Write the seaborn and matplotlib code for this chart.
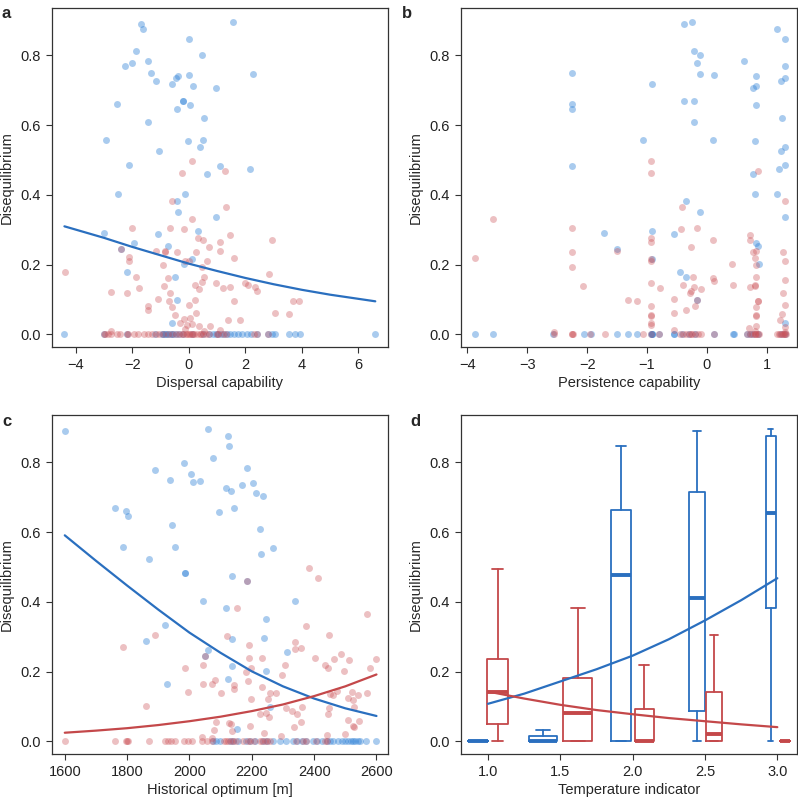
import matplotlib
matplotlib.use("Agg")
import matplotlib.pyplot as plt
import seaborn as sns

# ---- data ----
# panel a: dispersal capability
a_blue_x = [1.55, -1.70, -1.62, 0.0, -1.85, 0.47, -1.43, -2.02, -2.25, -1.33, 2.28, 0.0, -0.38, -0.46,
            -1.16, -0.58, 0.165, 0.98, -0.22, -0.21, -2.55, 0.06, -0.40, 0.53, -1.44, -2.94, 0.50, -0.02,
            0.40, -1.07, -2.10, 1.12, 2.18, 0.65, -2.50, -0.12, -0.40, -0.37, 0.96, -3.0, 0.34, -1.10,
            -1.94, -0.72, -2.41, 0.11, -0.18, -2.17, -0.50, -0.40, -0.60]
a_blue_y = [0.897, 0.890, 0.876, 0.848, 0.814, 0.800, 0.783, 0.777, 0.769, 0.750, 0.748, 0.745, 0.741, 0.734,
            0.727, 0.717, 0.712, 0.706, 0.669, 0.669, 0.662, 0.659, 0.646, 0.620, 0.609, 0.558, 0.558, 0.555,
            0.537, 0.525, 0.486, 0.483, 0.475, 0.461, 0.402, 0.402, 0.384, 0.350, 0.336, 0.292, 0.296, 0.289,
            0.263, 0.255, 0.246, 0.217, 0.203, 0.179, 0.165, 0.100, 0.034]
a_blue_zero_x = [-4.4, -3.0, -2.2, -1.2, -0.95, -0.9, -0.85, -0.8, -0.75, -0.65, -0.6, -0.55, -0.45, -0.35,
                 -0.2, 0.1, 0.5, 0.7, 0.85, 0.95, 1.05, 1.15, 1.25, 1.35, 1.45, 1.6, 1.75, 1.9, 2.05, 2.2,
                 2.4, 2.8, 2.95, 3.05, 3.55, 3.75, 3.95, 6.6]
a_red_x = [0.12, 1.27, -0.25, -0.60, 1.33, 0.10, -2.0, -0.65, -0.16, 1.45, 0.34, 2.95, 0.50, 1.10, 0.70,
           -1.17, -0.85, -0.83, -0.40, 0.27, 1.12, -2.10, -2.10, 0.0, -0.15, 0.65, 1.60, -0.90, 0.47, -4.37,
           2.83, 0.55, -1.85, -0.73, 0.98, 2.0, 0.48, 0.22, -0.88, 1.45, 2.10, 2.33, 0.35, 1.22, -1.77,
           2.40, -2.75, -2.20, -0.65, -1.10, 0.22, -0.70, 1.60, 3.70, 3.90, 0.0, -1.45, -0.60, -1.45, 0.25,
           3.05, 3.55, -0.50, -0.18, 0.05, 1.40, 1.80, -0.30, 0.10, -0.05, 0.35, 0.75, 1.10, -2.75, 0.55,
           -0.15, -2.41]
a_red_y = [0.496, 0.470, 0.463, 0.384, 0.364, 0.332, 0.305, 0.305, 0.302, 0.284, 0.277, 0.270, 0.272, 0.264,
           0.252, 0.239, 0.239, 0.236, 0.236, 0.236, 0.239, 0.222, 0.212, 0.212, 0.212, 0.212, 0.219, 0.198,
           0.193, 0.178, 0.173, 0.164, 0.165, 0.163, 0.148, 0.148, 0.149, 0.143, 0.139, 0.136, 0.141, 0.136,
           0.130, 0.134, 0.133, 0.126, 0.121, 0.120, 0.119, 0.102, 0.100, 0.095, 0.097, 0.095, 0.095, 0.085,
           0.081, 0.078, 0.070, 0.061, 0.061, 0.058, 0.056, 0.044, 0.047, 0.040, 0.040, 0.034, 0.031, 0.026,
           0.025, 0.025, 0.013, 0.009, 0.011, 0.016, 0.246]
a_red_zero_x = [-3.0, -2.95, -2.85, -2.75, -2.55, -2.45, -2.2, -2.15, -1.95, -1.8, -1.6, -1.45, -1.3, -1.15,
                -1.05, -0.9, -0.75, -0.6, -0.45, -0.35, -0.25, -0.2, -0.1, -0.05, 0.0, 0.05, 0.1, 0.15, 0.2,
                0.3, 0.4, 0.45, 0.5, 0.6, 0.7, 1.0, 1.05, 1.2, 1.3, 2.3, 2.4, 2.8]
a_curve_x = [-4.4, -3.0, -2.0, -1.0, 0.0, 1.0, 2.0, 3.0, 4.0, 5.0, 6.6]
a_curve_y = [0.310, 0.277, 0.251, 0.227, 0.203, 0.182, 0.162, 0.144, 0.128, 0.114, 0.095]

# panel b: persistence capability
b_blue_x = [-0.25, -0.38, 1.17, 1.31, -0.21, -0.12, 0.62, -0.16, 1.31, -2.26, -0.11, 0.12, 0.83, 1.31,
            1.24, -0.92, 0.82, 0.78, -0.38, -0.22, -2.26, 0.83, -2.26, 1.26, -0.22, -1.07, 0.10, 0.80,
            1.31, 1.24, -2.26, 1.31, 1.20, 0.78, 1.18, 0.80, -0.35, -0.12, 1.31, -1.71, -0.92, -0.54,
            0.82, 0.85, -1.50, -0.92, 0.87, -0.44, -0.34, -0.17, 1.31]
b_blue_y = [0.897, 0.890, 0.876, 0.848, 0.814, 0.800, 0.783, 0.777, 0.769, 0.750, 0.748, 0.745, 0.741, 0.734,
            0.727, 0.717, 0.712, 0.706, 0.669, 0.669, 0.662, 0.659, 0.646, 0.620, 0.609, 0.558, 0.558, 0.555,
            0.537, 0.525, 0.482, 0.486, 0.475, 0.461, 0.402, 0.402, 0.384, 0.350, 0.336, 0.292, 0.296, 0.289,
            0.263, 0.255, 0.246, 0.217, 0.203, 0.179, 0.165, 0.100, 0.034]
b_blue_zero_x = [-3.88, -3.57, -2.57, -2.06, -1.94, -1.50, -1.31, -1.16, -0.93, -0.92, -0.92, -0.91, -0.80,
                 -0.55, -0.54, -0.42, -0.30, -0.20, 0.12, 0.43, 0.45, 0.68, 0.72, 0.78, 0.85, 1.24, 1.30]
b_red_x = [-0.93, -0.93, 0.86, 1.30, -0.42, -3.58, -2.25, -0.43, -0.17, 0.72, -0.93, 0.10, 0.73, -0.93,
           -0.26, -2.25, -1.50, 0.78, 0.82, 1.28, -3.88, -0.93, 0.80, 1.30, 0.42, -2.25, 0.82, 0.10, -0.23,
           0.82, 1.30, 0.12, -0.93, -0.39, 0.43, -2.07, 0.72, 0.80, 0.81, -0.78, -0.22, -0.10, -0.27, -0.28,
           1.27, -1.32, -0.55, -1.16, 0.85, 0.86, -0.17, 1.30, -0.93, 0.82, -0.20, -0.35, -0.55, 1.25, -0.93,
           -0.93, 0.82, 0.83, 1.23, -0.93, -0.93, 0.70, 0.82, 1.30, -0.55, -2.56, 0.80, 1.30, -0.93]
b_red_y = [0.496, 0.463, 0.470, 0.384, 0.364, 0.332, 0.305, 0.302, 0.305, 0.284, 0.277, 0.272, 0.270, 0.264,
           0.252, 0.235, 0.239, 0.236, 0.239, 0.236, 0.220, 0.212, 0.219, 0.212, 0.203, 0.192, 0.198, 0.163,
           0.165, 0.165, 0.155, 0.152, 0.147, 0.143, 0.143, 0.138, 0.136, 0.139, 0.141, 0.133, 0.136, 0.131,
           0.124, 0.119, 0.119, 0.100, 0.102, 0.095, 0.095, 0.095, 0.100, 0.085, 0.081, 0.078, 0.081, 0.069,
           0.061, 0.059, 0.054, 0.056, 0.056, 0.054, 0.040, 0.034, 0.026, 0.019, 0.023, 0.021, 0.013, 0.008,
           0.009, 0.007, 0.217]
b_red_zero_x = [-2.56, -2.26, -2.25, -2.24, -1.95, -1.70, -1.07, -0.93, -0.80, -0.44, -0.40, -0.35, -0.30,
                -0.27, -0.25, -0.20, -0.15, -0.10, 0.12, 0.68, 0.72, 0.76, 0.80, 0.80, 0.82, 0.85, 0.88,
                1.17, 1.20, 1.23, 1.25, 1.27, 1.29, 1.30, 1.32]

# panel c: historical optimum
c_blue_x = [1600, 2061, 2125, 2128, 2074, 1983, 2185, 1891, 2004, 1937, 2035, 2012, 2203, 2170, 2118, 2132,
            2213, 2236, 1762, 2143, 1798, 2095, 1803, 1945, 2226, 1788, 1955, 2267, 2231, 1870, 1986, 1987,
            2138, 2185, 2045, 2340, 2118, 2247, 1923, 2138, 1860, 2240, 2060, 2312, 2049, 2138, 2246, 2125,
            1929, 2259, 2154]
c_blue_y = [0.890, 0.896, 0.876, 0.848, 0.813, 0.799, 0.783, 0.777, 0.768, 0.750, 0.748, 0.745, 0.740, 0.734,
            0.727, 0.717, 0.712, 0.705, 0.668, 0.668, 0.662, 0.658, 0.646, 0.620, 0.608, 0.558, 0.558, 0.555,
            0.537, 0.524, 0.484, 0.484, 0.474, 0.461, 0.402, 0.402, 0.384, 0.350, 0.335, 0.293, 0.289, 0.296,
            0.263, 0.256, 0.245, 0.217, 0.202, 0.179, 0.165, 0.100, 0.035]
c_blue_zero_x = [2076, 2085, 2097, 2130, 2140, 2155, 2180, 2195, 2210, 2236, 2250, 2268, 2290, 2310, 2333,
                 2345, 2360, 2375, 2397, 2410, 2425, 2440, 2450, 2461, 2477, 2490, 2500, 2510, 2518, 2525,
                 2532, 2540, 2547, 2568, 2600]
c_red_x = [2382, 2411, 2154, 2570, 2373, 1891, 2121, 2449, 2339, 1788, 2357, 2192, 2340, 2486, 2402, 2192,
           2234, 2464, 2511, 2598, 2434, 2043, 1986, 2196, 2307, 2443, 2580, 2495, 2181, 2296, 2083, 2187,
           2045, 2073, 2144, 2232, 2144, 2472, 2522, 1996, 2100, 2258, 2279, 2570, 2452, 2541, 2461, 2509,
           2198, 2252, 2525, 2311, 2360, 2448, 2528, 2330, 2345, 2227, 2247, 2443, 2256, 2359, 2084, 2509,
           2543, 2127, 2133, 2525, 2528, 2336, 2195, 2078, 2138, 2499, 2240, 2295, 2440, 2040, 2073, 1860,
           2049, 2185]
c_red_y = [0.496, 0.470, 0.384, 0.364, 0.332, 0.305, 0.301, 0.305, 0.284, 0.272, 0.269, 0.277, 0.264, 0.252,
           0.238, 0.238, 0.238, 0.235, 0.234, 0.236, 0.218, 0.219, 0.212, 0.212, 0.218, 0.212, 0.212, 0.202,
           0.198, 0.191, 0.177, 0.173, 0.165, 0.165, 0.161, 0.157, 0.150, 0.146, 0.143, 0.143, 0.138, 0.138,
           0.140, 0.140, 0.136, 0.133, 0.132, 0.126, 0.121, 0.121, 0.119, 0.096, 0.100, 0.096, 0.098, 0.086,
           0.080, 0.079, 0.081, 0.078, 0.069, 0.057, 0.057, 0.061, 0.059, 0.054, 0.050, 0.045, 0.040, 0.040,
           0.045, 0.032, 0.031, 0.022, 0.024, 0.017, 0.019, 0.014, 0.010, 0.102, 0.245, 0.461]
c_red_zero_x = [1600, 1762, 1796, 1800, 1803, 1870, 1921, 1930, 1940, 1953, 1983, 1995, 2008, 2040, 2055,
                2072, 2110, 2118, 2125, 2132, 2140, 2148, 2172, 2188, 2194, 2207, 2226, 2234, 2242, 2250,
                2258, 2343, 2363, 2375, 2405, 2434, 2440]
c_curve_x = [1600, 1700, 1800, 1900, 2000, 2100, 2200, 2300, 2400, 2500, 2600]
c_blue_curve = [0.591, 0.518, 0.447, 0.378, 0.312, 0.254, 0.201, 0.158, 0.123, 0.095, 0.073]
c_red_curve = [0.025, 0.031, 0.038, 0.047, 0.058, 0.071, 0.087, 0.106, 0.130, 0.158, 0.192]

# panel d: temperature indicator (box summaries)
temp_levels = [1.0, 1.5, 2.0, 2.5, 3.0]
d_blue_whislo = [0.0, 0.0, 0.0, 0.0, 0.0]
d_blue_q1 = [0.0, 0.0, 0.0, 0.088, 0.384]
d_blue_med = [0.0, 0.0, 0.478, 0.410, 0.654]
d_blue_q3 = [0.0, 0.016, 0.663, 0.714, 0.876]
d_blue_whishi = [0.0, 0.033, 0.848, 0.889, 0.897]
d_red_whislo = [0.0, 0.0, 0.0, 0.0, 0.0]
d_red_q1 = [0.050, 0.0, 0.0, 0.0, 0.0]
d_red_med = [0.141, 0.081, 0.0, 0.021, 0.0]
d_red_q3 = [0.237, 0.182, 0.094, 0.143, 0.0]
d_red_whishi = [0.495, 0.383, 0.220, 0.306, 0.0]
d_curve_x = [1.0, 1.25, 1.5, 1.75, 2.0, 2.25, 2.5, 2.75, 3.0]
d_blue_curve = [0.108, 0.137, 0.172, 0.207, 0.246, 0.293, 0.347, 0.405, 0.468]
d_red_curve = [0.143, 0.123, 0.105, 0.090, 0.078, 0.067, 0.058, 0.049, 0.041]

# layout of the boxes (offset from level, box width)
blue_off = [-0.069, -0.120, -0.079, -0.058, -0.046]
red_off = [0.066, 0.120, 0.080, 0.063, 0.053]
blue_w = [0.138, 0.198, 0.138, 0.111, 0.069]
red_w = [0.145, 0.198, 0.133, 0.108, 0.065]

BLUE = "#2a7fd6"
RED = "#cc5258"
BLUE_LINE = "#2a6fbf"
RED_LINE = "#c4484a"

sns.set_style("ticks")
plt.rcParams['font.family'] = ['Liberation Sans', 'DejaVu Sans']
plt.rcParams['axes.edgecolor'] = '#333333'
plt.rcParams['xtick.color'] = '#333333'
plt.rcParams['ytick.color'] = '#333333'
plt.rcParams['xtick.labelcolor'] = '#222222'
plt.rcParams['ytick.labelcolor'] = '#222222'

fig = plt.figure(figsize=(7.98, 7.98), dpi=100)
W = 798.0
boxes = {
    'a': (52, 8, 388, 347),
    'b': (461, 8, 797, 347),
    'c': (52, 415, 388, 754),
    'd': (461, 415, 797, 754),
}
axes = {}
for k, (x0, y0, x1, y1) in boxes.items():
    ax = fig.add_axes([x0 / W, 1 - y1 / W, (x1 - x0) / W, (y1 - y0) / W])
    axes[k] = ax


def style(ax, xlabel):
    for sp in ax.spines.values():
        sp.set_visible(True)
        sp.set_linewidth(0.9)
    ax.tick_params(direction='out', length=4, width=0.8, labelsize=10.5, pad=4)
    ax.set_yticks([0.0, 0.2, 0.4, 0.6, 0.8])
    ax.set_yticklabels(['0.0', '0.2', '0.4', '0.6', '0.8'])
    ax.set_ylim(-0.036, 0.936)
    ax.set_xlabel(xlabel, fontsize=10.5, labelpad=3)
    ax.set_ylabel('Disequilibrium', fontsize=10.5, labelpad=5)


def scatter(ax, bx, by, rx, ry):
    sns.scatterplot(x=bx, y=by, ax=ax, color=BLUE, alpha=0.4, s=25, linewidth=0, legend=False)
    sns.scatterplot(x=rx, y=ry, ax=ax, color=RED, alpha=0.36, s=25, linewidth=0, legend=False)


# a
ax = axes['a']
scatter(ax, a_blue_x + a_blue_zero_x, a_blue_y + [0.0] * len(a_blue_zero_x),
        a_red_x + a_red_zero_x, a_red_y + [0.0] * len(a_red_zero_x))
sns.lineplot(x=a_curve_x, y=a_curve_y, ax=ax, color=BLUE_LINE, linewidth=1.6)
ax.set_xlim(-4.84, 7.05)
ax.set_xticks([-4, -2, 0, 2, 4, 6])
ax.set_xticklabels(['\u22124', '\u22122', '0', '2', '4', '6'])
style(ax, 'Dispersal capability')

# b
ax = axes['b']
scatter(ax, b_blue_x + b_blue_zero_x, b_blue_y + [0.0] * len(b_blue_zero_x),
        b_red_x + b_red_zero_x, b_red_y + [0.0] * len(b_red_zero_x))
ax.set_xlim(-4.108, 1.508)
ax.set_xticks([-4, -3, -2, -1, 0, 1])
ax.set_xticklabels(['\u22124', '\u22123', '\u22122', '\u22121', '0', '1'])
style(ax, 'Persistence capability')

# c
ax = axes['c']
scatter(ax, c_blue_x + c_blue_zero_x, c_blue_y + [0.0] * len(c_blue_zero_x),
        c_red_x + c_red_zero_x, c_red_y + [0.0] * len(c_red_zero_x))
sns.lineplot(x=c_curve_x, y=c_blue_curve, ax=ax, color=BLUE_LINE, linewidth=1.6)
sns.lineplot(x=c_curve_x, y=c_red_curve, ax=ax, color=RED_LINE, linewidth=1.6)
ax.set_xlim(1559, 2637)
ax.set_xticks([1600, 1800, 2000, 2200, 2400, 2600])
style(ax, 'Historical optimum [m]')

# d
ax = axes['d']


def draw_boxes(ax, lo, q1, med, q3, hi, off, widths, color):
    stats = []
    for i in range(len(temp_levels)):
        stats.append({'whislo': lo[i], 'q1': q1[i], 'med': med[i], 'q3': q3[i],
                      'whishi': hi[i], 'fliers': []})
    pos = [t + o for t, o in zip(temp_levels, off)]
    ax.bxp(stats, positions=pos, widths=widths, capwidths=[w * 0.5 for w in widths],
           showfliers=False, manage_ticks=False,
           boxprops=dict(color=color, linewidth=1.3),
           whiskerprops=dict(color=color, linewidth=1.3, linestyle='-'),
           capprops=dict(color=color, linewidth=1.3),
           medianprops=dict(color=color, linewidth=2.8, solid_capstyle='butt'))


draw_boxes(ax, d_blue_whislo, d_blue_q1, d_blue_med, d_blue_q3, d_blue_whishi, blue_off, blue_w, BLUE_LINE)
draw_boxes(ax, d_red_whislo, d_red_q1, d_red_med, d_red_q3, d_red_whishi, red_off, red_w, RED_LINE)
sns.lineplot(x=d_curve_x, y=d_blue_curve, ax=ax, color=BLUE_LINE, linewidth=1.6)
sns.lineplot(x=d_curve_x, y=d_red_curve, ax=ax, color=RED_LINE, linewidth=1.6)
ax.set_xlim(0.813, 3.136)
ax.set_xticks(temp_levels)
ax.set_xticklabels(['1.0', '1.5', '2.0', '2.5', '3.0'])
style(ax, 'Temperature indicator')

# panel letters
for k, (x, y) in {'a': (2, 14), 'b': (402, 14), 'c': (2, 421), 'd': (410, 421)}.items():
    fig.text(x / W, 1 - y / W, k, fontsize=12, fontweight='bold', ha='left', va='center')

fig.savefig('out.png', dpi=100)
